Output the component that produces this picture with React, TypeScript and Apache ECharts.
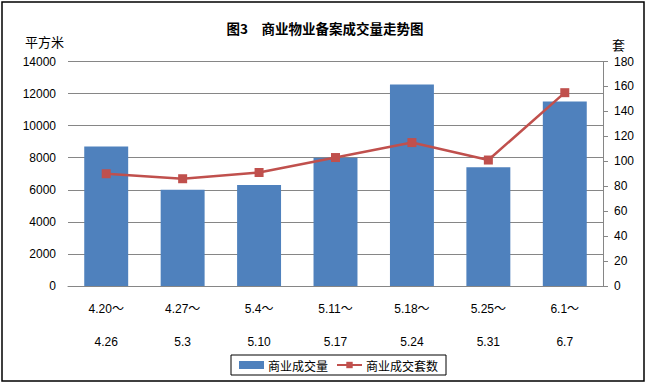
import React, { useEffect, useRef } from "react";
import * as echarts from "echarts";

const categories = ["4.20～\n4.26", "4.27～\n5.3", "5.4～\n5.10", "5.11～\n5.17", "5.18～\n5.24", "5.25～\n5.31", "6.1～\n6.7"];
const areaValues = [8700, 6000, 6300, 8000, 12570, 7400, 11500];
const countValues = [90, 86, 91, 103, 115, 101, 155];
const titleText = "图3　商业物业备案成交量走势图";
const leftUnit = "平方米";
const rightUnit = "套";
const barName = "商业成交量";
const lineName = "商业成交套数";

const FONT = "'Liberation Sans', 'Noto Sans CJK SC', sans-serif";
const CJK = "'Noto Sans CJK SC', sans-serif";

export default function App() {
  const ref = useRef<HTMLDivElement>(null);
  useEffect(() => {
    if (!ref.current) return;
    const chart = echarts.init(ref.current, null, { renderer: "svg" });
    chart.setOption({
      animation: false,
      backgroundColor: "#fff",
      textStyle: { fontFamily: FONT },
      title: {
        text: titleText,
        left: "center",
        top: 16,
        textStyle: { fontFamily: CJK, fontSize: 13.5, fontWeight: "bold", color: "#000" },
      },
      graphic: [
        {
          type: "rect",
          shape: { x: 2, y: 2, width: 642, height: 379 },
          style: { fill: "none", stroke: "#000", lineWidth: 1.5 },
          silent: true,
        },
        {
          type: "text",
          x: 25,
          y: 41,
          style: { text: leftUnit, fontFamily: CJK, fontSize: 13, fill: "#000", textVerticalAlign: "middle" },
        },
        {
          type: "text",
          x: 612,
          y: 44,
          style: { text: rightUnit, fontFamily: CJK, fontSize: 13, fill: "#000", textVerticalAlign: "middle" },
        },
      ],
      legend: {
        left: 231,
        top: 355,
        padding: [4, 8, 4, 8],
        borderColor: "#000",
        borderWidth: 1,
        itemGap: 8,
        itemWidth: 25,
        itemHeight: 8,
        textStyle: { fontFamily: CJK, fontSize: 12, color: "#000", padding: [0, 0, 0, -1] },
        data: [
          { name: barName, icon: "rect", itemStyle: { color: "#4F81BD" } },
          { name: lineName },
        ],
      },
      grid: { left: 68, right: 47, top: 61.5, bottom: 99 },
      xAxis: {
        type: "category",
        data: categories,
        axisLine: { lineStyle: { color: "#868686", width: 1 } },
        axisTick: { show: false },
        axisLabel: { color: "#000", fontSize: 12, lineHeight: 33, margin: 6, interval: 0 },
      },
      yAxis: [
        {
          type: "value",
          min: 0,
          max: 14000,
          interval: 2000,
          axisLine: { show: false },
          axisTick: { show: false },
          splitLine: { lineStyle: { color: "#868686", width: 1 } },
          axisLabel: { color: "#000", fontSize: 12, margin: 12, formatter: (v: number) => String(v) },
        },
        {
          type: "value",
          min: 0,
          max: 180,
          interval: 20,
          position: "right",
          axisLine: { show: true, lineStyle: { color: "#868686", width: 1 } },
          axisTick: { show: true, length: 5, lineStyle: { color: "#868686" } },
          splitLine: { show: false },
          axisLabel: { color: "#000", fontSize: 12, margin: 11, formatter: (v: number) => String(v) },
        },
      ],
      series: [
        {
          name: barName,
          type: "bar",
          data: areaValues,
          barWidth: "57.5%",
          itemStyle: { color: "#4F81BD" },
          yAxisIndex: 0,
        },
        {
          name: lineName,
          type: "line",
          data: countValues,
          yAxisIndex: 1,
          symbol: "rect",
          symbolSize: 9,
          lineStyle: { color: "#C0504D", width: 2.5 },
          itemStyle: { color: "#C0504D" },
        },
      ],
    });
    return () => chart.dispose();
  }, []);
  return (
    <div
      ref={ref}
      style={{ position: "fixed", left: 0, top: 0, width: 650, height: 385 }}
    />
  );
}
